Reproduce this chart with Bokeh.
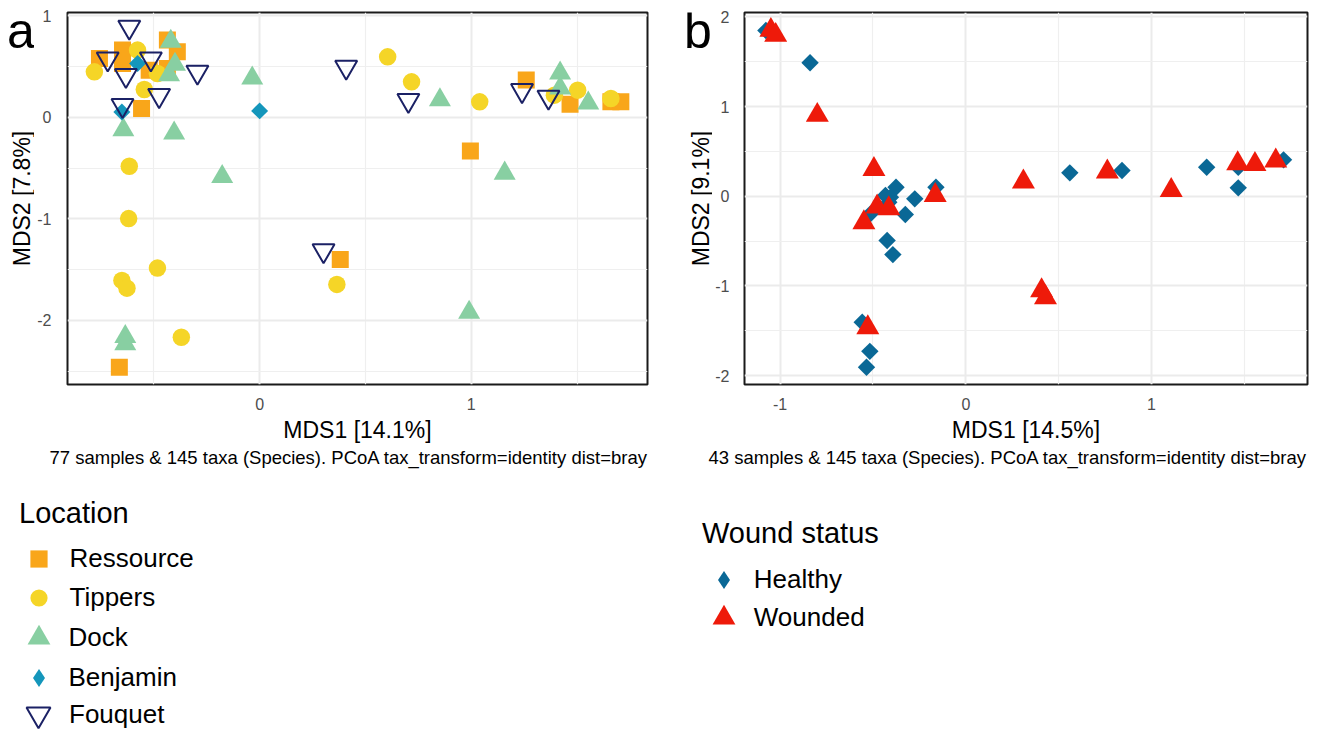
import math
from bokeh.plotting import figure
from bokeh.models import Range1d, FixedTicker, Legend, LegendItem, Label
from bokeh.layouts import row, column
from bokeh.embed import file_html
from bokeh.resources import INLINE

FONT = "Liberation Sans"
NAN = float("nan")

# ---------------- Panel a : Location ----------------
res_x = [-0.757, -0.648, -0.648, -0.436, -0.389, -0.522, -0.436, -0.558, 1.26, 1.467, 1.66, 1.707, 0.996, 0.381, -0.663]
res_y = [0.578, 0.66, 0.529, 0.759, 0.643, 0.463, 0.48, 0.086, 0.365, 0.128, 0.151, 0.151, -0.332, -1.399, -2.46]

tip_x = [-0.781, -0.577, -0.545, -0.483, -0.616, 0.605, 0.718, 1.04, 1.393, 1.503, 1.66, -0.619, -0.483, -0.651, -0.627, -0.37, 0.365]
tip_y = [0.446, 0.66, 0.273, 0.43, -0.483, 0.594, 0.348, 0.151, 0.217, 0.266, 0.184, -0.998, -1.485, -1.606, -1.682, -2.165, -1.645]

dock_x = [-0.42, -0.428, -0.40, -0.035, -0.644, -0.404, -0.177, 0.852, 1.42, 1.42, 1.553, 1.158, -0.635, -0.635, 0.99]
dock_y = [0.745, 0.416, 0.52, 0.384, -0.126, -0.158, -0.585, 0.17, 0.433, 0.285, 0.137, -0.552, -2.16, -2.23, -1.92]

ben_x = [-0.577, -0.651, 0.0]
ben_y = [0.529, 0.052, 0.062]

fou_x = [-0.616, -0.718, -0.632, -0.514, -0.294, -0.475, -0.648, 0.409, 0.703, 1.24, 1.365, 0.302]
fou_y = [0.887, 0.575, 0.411, 0.575, 0.444, 0.214, 0.116, 0.493, 0.165, 0.263, 0.197, -1.313]

# ---------------- Panel b : Wound status ----------------
hea_x = [-1.077, -0.839, -0.376, -0.433, -0.415, -0.406, -0.275, -0.326, -0.161, -0.514, -0.424, -0.393,
         -0.558, -0.517, -0.535, 0.56, 0.841, 1.297, 1.467, 1.467, 1.711]
hea_y = [1.849, 1.489, 0.1, 0.008, -0.067, -0.011, -0.029, -0.204, 0.1, -0.196, -0.494, -0.651,
         -1.406, -1.73, -1.908, 0.261, 0.287, 0.324, 0.324, 0.094, 0.406]

wou_x = [-1.05, -1.024, -0.80, -0.495, -0.165, -0.478, -0.415, -0.549, 0.31, 0.762, 1.106, 1.464, 1.557, 1.669,
         -0.528, 0.408, 0.429]
wou_y = [1.853, 1.797, 0.904, 0.301, 0.011, -0.118, -0.137, -0.293, 0.161, 0.272, 0.067, 0.365, 0.357, 0.395,
         -1.465, -1.053, -1.13]

loc_labels = ["Ressource", "Tippers", "Dock", "Benjamin", "Fouquet"]
wound_labels = ["Healthy", "Wounded"]
cap_a = "77 samples & 145 taxa (Species). PCoA tax_transform=identity dist=bray"
cap_b = "43 samples & 145 taxa (Species). PCoA tax_transform=identity dist=bray"

C_RES = "#F9A61A"
C_TIP = "#F5D527"
C_DOCK = "#88CFA2"
C_BEN = "#1496BB"
C_FOU = "#1B2165"
C_HEA = "#0A6896"
C_WOU = "#EE1A0A"

TOP_H = 446          # plot row height (frame + x axis)
LEG_H = 734 - TOP_H  # caption + legend row
FRAME_TOP, FRAME_BOTTOM = 12, 384
DIAMOND = math.pi / 4


def blank_fig(width, height):
    f = figure(width=width, height=height, x_range=Range1d(0, 1), y_range=Range1d(0, 1),
               output_backend="svg", toolbar_location=None, title=None,
               x_axis_type=None, y_axis_type=None, min_border=0)
    f.min_border_left = f.min_border_right = f.min_border_top = f.min_border_bottom = 0
    f.outline_line_color = None
    f.background_fill_color = "white"
    f.border_fill_color = "white"
    return f


def make_fig(width, xr, yr, xt, xm, yt, ym, bl, br, xlabel, ystand):
    p = figure(width=width, height=TOP_H, x_range=Range1d(*xr), y_range=Range1d(*yr),
               output_backend="svg", toolbar_location=None, title=None,
               min_border_left=bl, min_border_right=br, min_border_top=FRAME_TOP,
               min_border_bottom=TOP_H - FRAME_BOTTOM)
    p.background_fill_color = "white"
    p.border_fill_color = "white"
    p.outline_line_color = "#1A1A1A"
    p.outline_line_width = 2
    xtick = FixedTicker(ticks=xt, minor_ticks=xm)
    ytick = FixedTicker(ticks=yt, minor_ticks=ym)
    p.xaxis.ticker = xtick
    p.yaxis.ticker = ytick
    p.xgrid.ticker = xtick
    p.ygrid.ticker = ytick
    p.grid.grid_line_color = "#EBEBEB"
    p.grid.grid_line_width = 2
    p.grid.minor_grid_line_color = "#EFEFEF"
    p.grid.minor_grid_line_width = 1.2
    for ax in (p.xaxis[0], p.yaxis[0]):
        ax.axis_line_color = None
        ax.major_tick_line_color = None
        ax.minor_tick_line_color = None
        ax.major_label_text_font = FONT
        ax.major_label_text_font_size = "16px"
        ax.major_label_text_color = "#4D4D4D"
        ax.axis_label_text_font = FONT
        ax.axis_label_text_font_size = "23px"
        ax.axis_label_text_font_style = "normal"
        ax.axis_label_text_color = "black"
        ax.major_label_overrides = {t: ("-%d" % abs(t) if t < 0 else "%d" % t) for t in (xt + yt)}
    p.xaxis.axis_label = xlabel
    p.yaxis.axis_label = None
    p.xaxis.major_label_standoff = 7
    p.xaxis.axis_label_standoff = 4
    p.yaxis.major_label_standoff = ystand
    return p


def add_text(f, text, x, y, size, left, bottom, angle=0.0, align="left", color="black"):
    # x, y: page pixels of the anchor (text middle); left/bottom: page pixels of the figure's frame
    f.add_layout(Label(x=x - left, y=bottom - y, x_units="screen", y_units="screen",
                       text=text, text_font=FONT, text_font_size=size, text_color=color,
                       text_baseline="middle", text_align=align, angle=angle))


def add_item(f, label, rend, cx, cy, w, label_x, left, bottom):
    vx = cx - w / 2 - left
    vy = bottom - cy - w / 2
    standoff = int(round(label_x - (cx + w / 2)))
    leg = Legend(items=[LegendItem(label=label, renderers=[rend])], location=(vx, vy),
                 glyph_width=w, glyph_height=w, label_standoff=max(standoff, 0),
                 padding=0, margin=0, spacing=0, border_line_color=None,
                 background_fill_alpha=0, label_text_font=FONT, label_text_font_size="26px",
                 label_text_color="black")
    f.add_layout(leg)


# ================= panel a =================
SA_W = 34
pa = make_fig(660 - SA_W, (-0.908, 1.833), (-2.63, 1.03), [0, 1], [-0.5, 0.5, 1.5], [-2, -1, 0, 1],
              [-2.5, -1.5, -0.5, 0.5], 64 - SA_W, 13, "MDS1 [14.1%]", 10)
pa.scatter(res_x, res_y, marker="square", size=17, fill_color=C_RES, line_color=None)
pa.scatter(tip_x, tip_y, marker="circle", size=17.5, fill_color=C_TIP, line_color=None)
pa.scatter(dock_x, dock_y, marker="triangle", size=22, fill_color=C_DOCK, line_color=None)
pa.scatter(ben_x, ben_y, marker="square", angle=DIAMOND, size=12, fill_color=C_BEN, line_color=None)
pa.scatter(fou_x, fou_y, marker="inverted_triangle", size=22, fill_color=None, line_color=C_FOU, line_width=2)

sa = blank_fig(SA_W, TOP_H)   # its frame is aligned with pa's frame (top 12, bottom 384)
add_text(sa, "a", 6.5, 30.5, "50px", 0, FRAME_BOTTOM)
add_text(sa, "MDS2 [7.8%]", 21.7, 198, "23px", 0, FRAME_BOTTOM, angle=math.pi / 2, align="center")

la = blank_fig(660, LEG_H)
k_res = la.scatter([NAN], [NAN], marker="square", size=17, fill_color=C_RES, line_color=None)
k_tip = la.scatter([NAN], [NAN], marker="circle", size=17, fill_color=C_TIP, line_color=None)
k_dock = la.scatter([NAN], [NAN], marker="triangle", size=22, fill_color=C_DOCK, line_color=None)
k_ben = la.scatter([NAN], [NAN], marker="diamond", size=18, fill_color=C_BEN, line_color=None)
k_fou = la.scatter([NAN], [NAN], marker="inverted_triangle", size=22, fill_color=None, line_color=C_FOU, line_width=2)
add_text(la, cap_a, 647.5, 456.6, "18.5px", 0, 734, align="right")
add_text(la, "Location", 18.5, 512.2, "29px", 0, 734)
for lab, rend, cy, w in zip(loc_labels, [k_res, k_tip, k_dock, k_ben, k_fou],
                            [558, 597.5, 637, 677.5, 714], [43, 43, 57, 45, 60]):
    add_item(la, lab, rend, 38, cy, w, 69, 0, 734)

# ================= panel b =================
SB_W = 52
pb = make_fig(660 - SB_W, (-1.192, 1.84), (-2.10, 2.05), [-1, 0, 1], [-0.5, 0.5, 1.5], [-2, -1, 0, 1, 2],
              [-1.5, -0.5, 0.5, 1.5], 742 - 660 - SB_W, 13, "MDS1 [14.5%]", 9)
pb.scatter(hea_x, hea_y, marker="square", angle=DIAMOND, size=12.3, fill_color=C_HEA, line_color=None)
pb.scatter(wou_x, wou_y, marker="triangle", size=23, fill_color=C_WOU, line_color=None)

sb = blank_fig(SB_W, TOP_H)
add_text(sb, "b", 683.4, 30.5, "50px", 660, FRAME_BOTTOM)
add_text(sb, "MDS2 [9.1%]", 700, 198, "23px", 660, FRAME_BOTTOM, angle=math.pi / 2, align="center")

lb = blank_fig(660, LEG_H)
k_hea = lb.scatter([NAN], [NAN], marker="diamond", size=18, fill_color=C_HEA, line_color=None)
k_wou = lb.scatter([NAN], [NAN], marker="triangle", size=23, fill_color=C_WOU, line_color=None)
add_text(lb, cap_b, 1306.5, 456.6, "18.5px", 660, 734, align="right")
add_text(lb, "Wound status", 701.5, 532.7, "29px", 660, 734)
for lab, rend, cy, w in zip(wound_labels, [k_hea, k_wou], [579.2, 617.5], [45, 57]):
    add_item(lb, lab, rend, 723.3, cy, w, 754, 660, 734)

layout = row(column(row(sa, pa), la), column(row(sb, pb), lb))
open("out.html", "w").write(file_html(layout, INLINE))
